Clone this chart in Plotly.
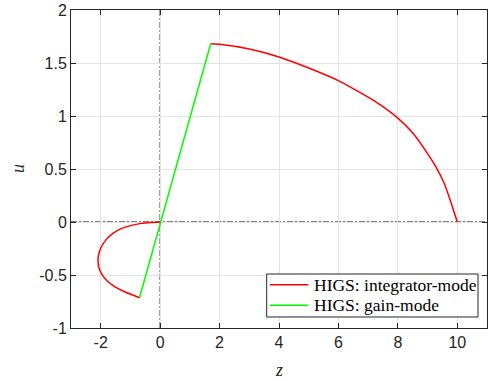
import plotly.graph_objects as go

# Integrator-mode arc (upper)
z_int_upper = [1.70, 2.0, 3.0, 4.0, 5.0, 6.0, 7.22, 8.0, 8.5, 8.95, 9.28, 9.56, 9.78, 10.0]
u_int_upper = [1.682, 1.676, 1.632, 1.557, 1.453, 1.334, 1.14, 0.98, 0.84, 0.667, 0.52, 0.365, 0.19, 0.0]

# Gain-mode line
z_gain = [1.70, -0.695]
u_gain = [1.682, -0.714]

# Integrator-mode arc (lower), from end of gain mode back to origin
z_int_lower = [-0.695, -0.92, -1.20, -1.53, -1.78, -1.96, -2.06, -2.09, -2.07, -1.98,
               -1.81, -1.59, -1.31, -0.97, -0.64, -0.30, 0.0]
u_int_lower = [-0.714, -0.689, -0.658, -0.61, -0.557, -0.494, -0.431, -0.368, -0.305, -0.236,
               -0.164, -0.107, -0.063, -0.032, -0.013, -0.004, 0.0]

x_ticks = [-2, 0, 2, 4, 6, 8, 10]
x_ticktext = ["-2", "0", "2", "4", "6", "8", "10"]
y_ticks = [-1, -0.5, 0, 0.5, 1, 1.5, 2]
y_ticktext = ["-1", "-0.5", "0", "0.5", "1", "1.5", "2"]

legend_labels = ["HIGS: integrator-mode", "HIGS: gain-mode"]

RED = "#ff0000"
GREEN = "#00ff00"
AX = "#262626"

fig = go.Figure()
fig.add_trace(go.Scatter(x=z_int_upper, y=u_int_upper, mode="lines",
                         line=dict(color=RED, width=1.5, shape="spline", smoothing=0.5),
                         name=legend_labels[0], showlegend=False))
fig.add_trace(go.Scatter(x=z_gain, y=u_gain, mode="lines",
                         line=dict(color=GREEN, width=1.5),
                         name=legend_labels[1], showlegend=False))
fig.add_trace(go.Scatter(x=z_int_lower, y=u_int_lower, mode="lines",
                         line=dict(color=RED, width=1.5, shape="spline", smoothing=0.6),
                         name=legend_labels[0], showlegend=False))

DASHDOT = "6px,2px,2px,2px"
fig.add_shape(type="line", xref="x", yref="paper", x0=0, x1=0, y0=0, y1=1,
              line=dict(color="black", width=1, dash=DASHDOT), layer="between")
fig.add_shape(type="line", xref="paper", yref="y", x0=0, x1=1, y0=0, y1=0,
              line=dict(color="black", width=1, dash=DASHDOT), layer="between")

# Legend box (drawn manually to match the compact MATLAB legend)
fig.add_shape(type="rect", xref="paper", yref="paper",
              x0=0.4704, x1=0.9784, y0=0.0346, y1=0.1698,
              line=dict(color=AX, width=1), fillcolor="white", layer="above")
for label, color, yrow in [(legend_labels[0], RED, 0.1362), (legend_labels[1], GREEN, 0.0714)]:
    fig.add_shape(type="line", xref="paper", yref="paper",
                  x0=0.4784, x1=0.5704, y0=yrow, y1=yrow,
                  line=dict(color=color, width=1.5), layer="above")
    fig.add_annotation(text=label, xref="paper", yref="paper", x=0.5786, y=yrow,
                       xanchor="left", yanchor="middle", showarrow=False,
                       font=dict(family="Liberation Serif, serif", size=17.5, color="black"))

axis_common = dict(showgrid=True, gridcolor="#e3e3e3", gridwidth=1,
                   zeroline=False, showline=True, linecolor=AX, linewidth=1,
                   mirror="ticks", ticks="inside", ticklen=5, tickcolor=AX,
                   automargin=False,
                   tickfont=dict(family="Liberation Sans, Arial, sans-serif", size=16, color=AX))

fig.update_xaxes(range=[-3, 11], tickvals=x_ticks, ticktext=x_ticktext, **axis_common)
fig.update_yaxes(range=[-1, 2], tickvals=y_ticks, ticktext=y_ticktext, **axis_common)

fig.add_annotation(text="<i>z</i>", xref="paper", yref="paper", x=0.5, y=0,
                   xanchor="center", yanchor="middle",
                   yshift=-42, showarrow=False,
                   font=dict(family="Liberation Serif, serif", size=18, color=AX))
fig.add_annotation(text="<i>u</i>", xref="paper", yref="paper", x=0, y=0.5,
                   xanchor="center", yanchor="middle",
                   xshift=-53, textangle=-90, showarrow=False,
                   font=dict(family="Liberation Serif, serif", size=18, color=AX))

fig.update_layout(
    width=489, height=381,
    margin=dict(l=71, r=2, t=10, b=53, autoexpand=False),
    paper_bgcolor="white", plot_bgcolor="white",
    showlegend=False,
)

fig.write_html("out.html", config={"displayModeBar": False},
               post_script="document.body.style.margin='0';document.body.style.overflow='hidden';")
